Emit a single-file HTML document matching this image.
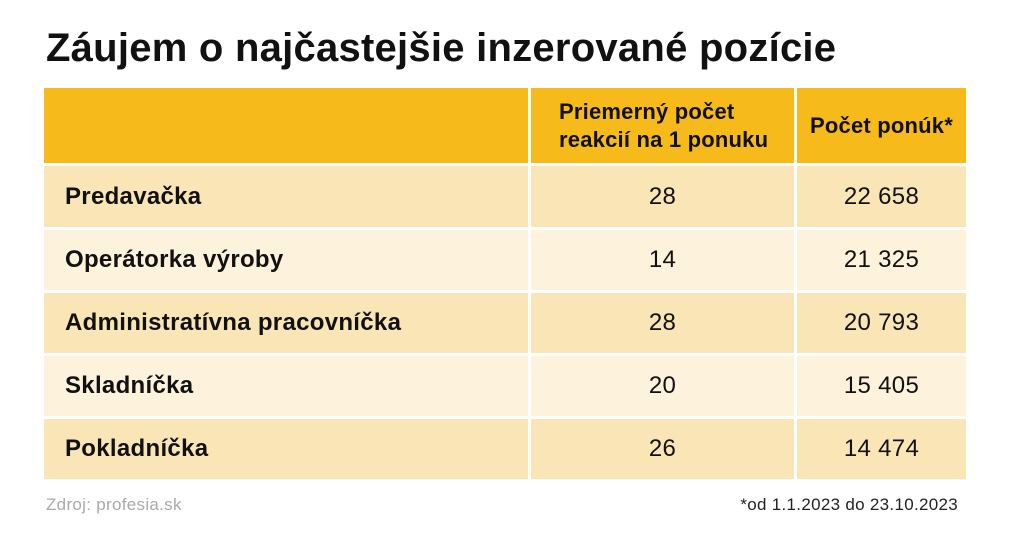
<!DOCTYPE html>
<html><head><meta charset="utf-8"><style>
body{margin:0;width:1024px;height:540px;background:#fff;font-family:"Liberation Sans",sans-serif;position:relative;overflow:hidden;color:#111}
.t{position:absolute;left:46px;top:26px;font-size:40px;font-weight:bold;letter-spacing:0.25px;white-space:nowrap}
.c{position:absolute;box-sizing:border-box;display:flex;align-items:center;white-space:nowrap}
.h{background:#f6bb1a}
.a{background:#fae5b6}
.b{background:#fdf2dc}
.l{padding-left:21px;font-weight:bold;font-size:24px;letter-spacing:0.3px}
.n{justify-content:center;font-size:24px;letter-spacing:0.3px}
.hd{font-weight:bold;font-size:22px;line-height:28px;letter-spacing:0.2px}
.f{position:absolute;top:495px;font-size:17px;letter-spacing:0.3px}
</style></head><body>
<div class="t">Záujem o najčastejšie inzerované pozície</div>
<div class="c h" style="left:44px;top:88px;width:484px;height:75px"></div>
<div class="c h hd" style="left:531px;top:88px;width:263px;height:75px;padding-left:28px">Priemerný počet<br>reakcií na 1 ponuku</div>
<div class="c h hd" style="left:797px;top:88px;width:169px;height:75px;justify-content:center">Počet ponúk*</div>

<div class="c a l" style="left:44px;top:166px;width:484px;height:61px">Predavačka</div>
<div class="c a n" style="left:531px;top:166px;width:263px;height:61px">28</div>
<div class="c a n" style="left:797px;top:166px;width:169px;height:61px">22 658</div>

<div class="c b l" style="left:44px;top:230px;width:484px;height:60px">Operátorka výroby</div>
<div class="c b n" style="left:531px;top:230px;width:263px;height:60px">14</div>
<div class="c b n" style="left:797px;top:230px;width:169px;height:60px">21 325</div>

<div class="c a l" style="left:44px;top:293px;width:484px;height:60px">Administratívna pracovníčka</div>
<div class="c a n" style="left:531px;top:293px;width:263px;height:60px">28</div>
<div class="c a n" style="left:797px;top:293px;width:169px;height:60px">20 793</div>

<div class="c b l" style="left:44px;top:356px;width:484px;height:60px">Skladníčka</div>
<div class="c b n" style="left:531px;top:356px;width:263px;height:60px">20</div>
<div class="c b n" style="left:797px;top:356px;width:169px;height:60px">15 405</div>

<div class="c a l" style="left:44px;top:419px;width:484px;height:60px">Pokladníčka</div>
<div class="c a n" style="left:531px;top:419px;width:263px;height:60px">26</div>
<div class="c a n" style="left:797px;top:419px;width:169px;height:60px">14 474</div>

<div class="f" style="left:46px;color:#aaa">Zdroj: profesia.sk</div>
<div class="f" style="right:66px;color:#222">*od 1.1.2023 do 23.10.2023</div>
</body></html>
